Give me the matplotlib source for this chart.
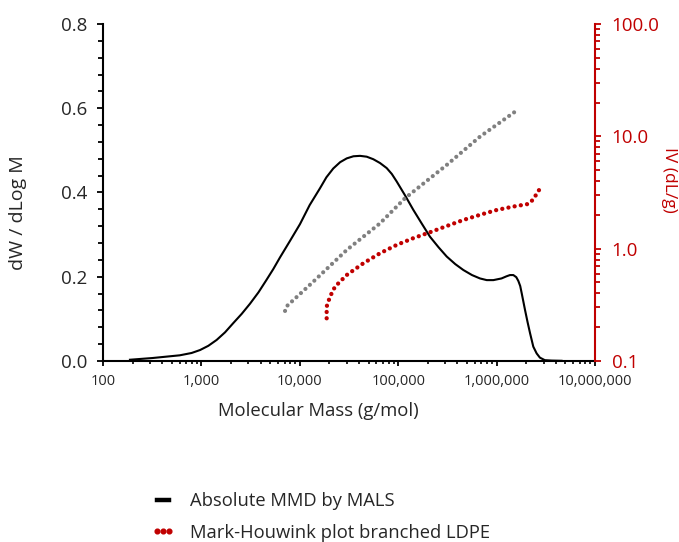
import matplotlib
matplotlib.use("Agg")
import matplotlib.pyplot as plt
import numpy as np
from matplotlib.lines import Line2D
from matplotlib.ticker import FuncFormatter, MultipleLocator, LogLocator

plt.rcParams['font.family'] = ['Open Sans', 'DejaVu Sans']

# absolute MMD by MALS: log10(M) and dW/dlogM
mmd_logm = [2.274, 2.5, 2.78, 2.9, 2.986, 3.07, 3.155, 3.24, 3.324, 3.41,
            3.494, 3.58, 3.66, 3.73, 3.799, 3.9, 4.002, 4.1, 4.205, 4.27,
            4.34, 4.41, 4.477, 4.545, 4.612, 4.68, 4.747, 4.815, 4.883, 4.935,
            4.985, 5.07, 5.153, 5.24, 5.323, 5.41, 5.493, 5.58, 5.662, 5.75,
            5.831, 5.9, 5.967, 6.05, 6.1, 6.136, 6.17, 6.2, 6.221, 6.24,
            6.255, 6.272, 6.289, 6.315, 6.34, 6.373, 6.407, 6.44, 6.49, 6.56,
            6.66]
mmd_w = [0.003, 0.007, 0.0135, 0.019, 0.026, 0.036, 0.05, 0.068, 0.09, 0.112,
         0.136, 0.163, 0.192, 0.218, 0.246, 0.285, 0.325, 0.37, 0.41, 0.436,
         0.457, 0.472, 0.481, 0.486, 0.487, 0.485, 0.479, 0.47, 0.458, 0.444,
         0.426, 0.393, 0.359, 0.326, 0.295, 0.27, 0.248, 0.23, 0.216, 0.204,
         0.196, 0.192, 0.192, 0.196, 0.201, 0.204, 0.204, 0.199, 0.19, 0.178,
         0.161, 0.141, 0.121, 0.092, 0.066, 0.034, 0.018, 0.008, 0.002, 0.001,
         0.0005]

# linear reference (grey)
lin_mass = [7079, 7413, 13700, 30000, 65300, 117200, 311000, 677000, 1650000]
lin_iv = [0.279, 0.309, 0.508, 0.974, 1.68, 2.81, 5.56, 9.93, 17.3]

# Mark-Houwink plot branched LDPE (red)
ldpe_mass = [18750, 18750, 20280, 22800, 30000, 44200, 65300, 96600, 142300,
             210400, 311000, 459000, 677000, 1002000, 1479000, 2100000,
             2323000, 2553000, 2880000]
ldpe_iv = [0.240, 0.305, 0.374, 0.459, 0.583, 0.741, 0.910, 1.08, 1.24,
           1.40, 1.59, 1.80, 2.00, 2.21, 2.37, 2.50, 2.71, 3.07, 3.65]

red = '#C00000'
grey = '#808080'
txt = '#262626'

fig = plt.figure(figsize=(6.79, 5.42), dpi=100)
ax = fig.add_axes([103/679, 1-361/542, 492/679, 337/542])
ax2 = ax.twinx()

ax.plot(10 ** np.array(mmd_logm), mmd_w, color='black', lw=1.5, zorder=3,
        solid_joinstyle='round')

dots = (0, (0.01, 1.45))
ax2.plot(lin_mass, lin_iv, color=grey, lw=3.0, linestyle=dots,
         dash_capstyle='round')
ax2.plot(ldpe_mass, ldpe_iv, color=red, lw=3.1, linestyle=dots,
         dash_capstyle='round')

ax.set_xscale('log')
ax.set_xlim(100, 1e7)
ax.set_ylim(0, 0.8)
ax.yaxis.set_major_locator(MultipleLocator(0.2))
ax.yaxis.set_minor_locator(MultipleLocator(0.04))
ax.yaxis.set_major_formatter(FuncFormatter(lambda v, p: f"{v:.1f}"))
ax.xaxis.set_major_locator(LogLocator(base=10))
ax.xaxis.set_minor_locator(LogLocator(base=10, subs=range(2, 10)))
ax.xaxis.set_major_formatter(FuncFormatter(lambda v, p: f"{v:,.0f}"))

ax2.set_yscale('log')
ax2.set_ylim(0.1, 100)
ax2.yaxis.set_major_formatter(FuncFormatter(lambda v, p: f"{v:.1f}"))
ax2.yaxis.set_minor_formatter(FuncFormatter(lambda v, p: ""))

for s in ['top', 'right']:
    ax.spines[s].set_visible(False)
for s in ['top', 'left', 'bottom']:
    ax2.spines[s].set_visible(False)
ax.spines['left'].set_linewidth(1.5)
ax.spines['bottom'].set_linewidth(1.5)
ax2.spines['right'].set_linewidth(1.5)
ax2.spines['right'].set_color(red)

ax.tick_params(axis='y', which='major', length=4, width=1.3, pad=7,
               labelsize=13.5, labelcolor=txt)
ax.tick_params(axis='y', which='minor', length=3.5, width=1.3)
ax.tick_params(axis='x', which='major', length=3.5, width=1.3, pad=6,
               labelsize=10.5, labelcolor=txt)
ax.tick_params(axis='x', which='minor', length=2, width=1.2)
ax2.tick_params(axis='y', which='major', length=4, width=1.3, pad=8,
                labelsize=13.5, colors=red)
ax2.tick_params(axis='y', which='minor', length=3.5, width=1.3, colors=red)

fig.text(318/679, 1-411/542, 'Molecular Mass (g/mol)', ha='center',
         va='center', fontsize=13.3, color=txt)
fig.text(18/679, 1-213/542, 'dW / dLog M', ha='center', va='center',
         rotation=90, fontsize=14, color=txt)
fig.text(669/679, 1-180/542, 'IV (dL/g)', ha='center', va='center',
         rotation=270, fontsize=12.5, color=red)

handles = [Line2D([], [], color='black', lw=3.2),
           Line2D([], [], color=red, linestyle='none', marker='o',
                  markersize=3.4)]
fig.legend(handles, ['Absolute MMD by MALS', 'Mark-Houwink plot branched LDPE'],
           loc='upper left', bbox_to_anchor=(151/679, 1-492/542),
           frameon=False, fontsize=13.2, handlelength=1.3, handletextpad=0.8,
           labelspacing=0.75, borderpad=0, borderaxespad=0, numpoints=3,
           labelcolor=txt)

fig.savefig('out.png', dpi=100)
